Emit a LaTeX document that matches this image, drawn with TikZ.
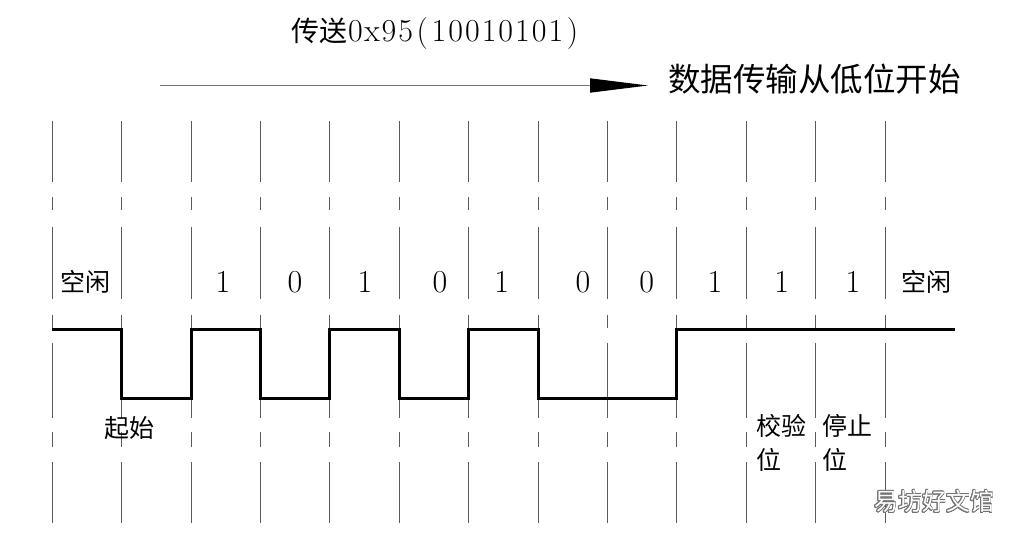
\documentclass[tikz,border=0pt]{standalone}
\usepackage{fontspec}
\newfontfamily\cjk{Noto Sans CJK SC}
\usepackage{contour}
\contourlength{0.9pt}
\usetikzlibrary{arrows.meta}
\newcommand\hwc[1]{\makebox[16.7pt]{#1}}
\begin{document}
\begin{tikzpicture}[x=1pt,y=-1pt,
  gridline/.style={draw=black!65, line width=1pt},
  wave/.style={draw=black, line width=3pt, line join=miter},
  cjklbl/.style={inner sep=0pt, font=\cjk\fontsize{25}{34}\selectfont, align=left},
  bit/.style={inner sep=0pt, anchor=base, font=\fontsize{32}{32}\selectfont},
]
\useasboundingbox (0,0) rectangle (1022,536);

% dashed grid lines
\foreach \i in {0,...,12} {
  \pgfmathsetmacro\xx{52.3+69.4*\i}
  \foreach \a/\b in {121/182,197/210,227/299,315/328,343/418,432/447,462/523}
    \draw[gridline] (\xx,\a) -- (\xx,\b);
}

% waveform
\coordinate (ws) at (52.3,329.3);
\coordinate (we) at (955,329.3);
\draw[wave] (ws) -| (121.7,398.3) -| (191.1,329.3) -| (260.5,398.3) -| (329.9,329.3)
  -| (399.3,398.3) -| (468.7,329.3) -| (538.1,398.3) -| (676.9,329.3) -- (we);

% arrow
\coordinate (as) at (160,85.5);
\coordinate (ae) at (648,85.5);
\draw[line width=1.6pt, draw=black!55, -{Triangle[length=58pt,width=14pt,color=black]}] (as) -- (ae);

% titles
\node[anchor=base west, inner sep=0pt] (title) at (291,41)
  {{\cjk\fontsize{28}{28}\selectfont 传送}{\fontsize{32}{32}\selectfont\hwc{0}\hwc{x}\hwc{9}\hwc{5}\hwc{(}\hwc{1}\hwc{0}\hwc{0}\hwc{1}\hwc{0}\hwc{1}\hwc{0}\hwc{1}\hwc{)}}};
\node[anchor=west, inner sep=0pt, font=\cjk\fontsize{32.5}{34}\selectfont] (dir) at (668,79) {数据传输从低位开始};

% bit labels
\node[bit] (b0) at (223,292) {1};
\node[bit] (b1) at (295,292) {0};
\node[bit] (b2) at (365,292) {1};
\node[bit] (b3) at (440,292) {0};
\node[bit] (b4) at (501.7,292) {1};
\node[bit] (b5) at (583,292) {0};
\node[bit] (b6) at (646.7,292) {0};
\node[bit] (b7) at (715,292) {1};
\node[bit] (bp) at (781.7,292) {1};
\node[bit] (bs) at (853,292) {1};

\node[cjklbl, anchor=west] (idle1) at (60,282) {空闲};
\node[cjklbl, anchor=west] (idle2) at (901,282) {空闲};
\node[cjklbl, anchor=west] (start) at (104,428) {起始};
\node[cjklbl, anchor=north west] (parity) at (756,414) {校验\\位};
\node[cjklbl, anchor=north west] (stop) at (822,414) {停止\\位};

% watermark
\node[inner sep=0pt, font=\cjk\fontsize{24}{24}\selectfont] (wm) at (934,502)
  {\contour{black!55}{\color{white}易坊好文馆}};
\end{tikzpicture}
\end{document}
